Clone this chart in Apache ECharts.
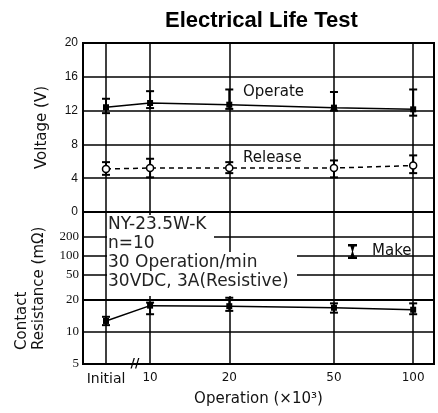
<!DOCTYPE html>
<html>
<head>
<meta charset="utf-8">
<script src="https://cdn.jsdelivr.net/npm/echarts@6/dist/echarts.min.js"></script>
<style>html,body{margin:0;padding:0;background:#fff}#main{width:438px;height:413px}</style>
</head>
<body>
<div id="main"></div>
<script>
// operations (x10^3); 6.8 is where "Initial" sits, left of the axis break
var ops = [6.8, 10, 20, 50, 100];
var opLabels = ['Initial', '10', '20', '50', '100'];
var resTicksHigh = [50, 100, 200];
var resTicksLow = [5, 10, 20];

// voltage (V)
var operateMean = [12.4, 12.9, 12.7, 12.35, 12.15];
var operateHigh = [13.4, 14.3, 14.5, 14.2, 14.5];
var operateLow = [11.7, 12.3, 12.2, 12.0, 11.4];
var releaseMean = [5.1, 5.2, 5.2, 5.2, 5.5];
var releaseHigh = [5.9, 6.3, 5.9, 6.1, 6.7];
var releaseLow = [4.4, 4.1, 4.6, 4.1, 4.6];
// contact resistance (mOhm)
var makeMean = [12.7, 17.7, 17.5, 16.9, 16.2];
var makeHigh = [13.9, 18.9, 21, 18.6, 18.6];
var makeLow = [11.6, 14.7, 15.8, 15.2, 14.7];

var myChart = echarts.init(document.getElementById('main'));

function pairs(vals) {
    var out = [];
    for (var i = 0; i < ops.length; i++) out.push([ops[i], vals[i]]);
    return out;
}
function ranges(low, high) {
    var out = [];
    for (var i = 0; i < ops.length; i++) out.push([ops[i], low[i], high[i]]);
    return out;
}
function errorBar(params, api) {
    var lo = api.coord([api.value(0), api.value(1)]);
    var hi = api.coord([api.value(0), api.value(2)]);
    var w = 4;
    var st = {stroke: '#000', lineWidth: 2};
    return {type: 'group', children: [
        {type: 'line', shape: {x1: lo[0], y1: lo[1], x2: hi[0], y2: hi[1]}, style: st},
        {type: 'line', shape: {x1: hi[0] - w, y1: hi[1], x2: hi[0] + w, y2: hi[1]}, style: st},
        {type: 'line', shape: {x1: lo[0] - w, y1: lo[1], x2: lo[0] + w, y2: lo[1]}, style: st}
    ]};
}
function opName(v) {
    for (var i = 0; i < ops.length; i++) {
        if (Math.abs(ops[i] - v) < 1e-6) return i == 0 ? '{i|' + opLabels[i] + '}' : opLabels[i];
    }
    return '';
}

var gridStyle = {show: true, borderColor: '#000', borderWidth: 2, left: 83, right: 4};
var split = {show: true, lineStyle: {color: '#000', width: 1.5}};
var labelFont = {color: '#111', fontFamily: 'Liberation Sans', fontSize: 12};
var boxFont = '17px "DejaVu Sans"';

function xAxisFor(i) {
    return {
        type: 'log', gridIndex: i, min: 5.56, max: 120,
        axisLine: {show: false},
        axisTick: {show: false, customValues: ops},
        axisLabel: {
            show: i == 2, customValues: ops, formatter: opName, margin: 8,
            color: '#111', fontFamily: 'DejaVu Sans', fontSize: 12,
            rich: {i: {fontFamily: 'DejaVu Sans', fontSize: 14, color: '#111'}}
        },
        splitLine: split,
        name: i == 2 ? 'Operation (×10³)' : '',
        nameLocation: 'middle', nameGap: 28,
        nameTextStyle: {color: '#111', fontFamily: 'DejaVu Sans', fontSize: 15}
    };
}

var option = {
    animation: false,
    title: {
        text: 'Electrical Life Test',
        left: 160, top: 5,
        textStyle: {fontFamily: 'Liberation Sans', fontWeight: 'bold', fontSize: 22, color: '#000'}
    },
    legend: {
        data: ['Make'], left: 343, top: 239,
        itemWidth: 9, itemHeight: 15,
        icon: 'path://M0,0H9V2.5H6.5L5,7.5L6.5,12.5H9V15H0V12.5H2.5L4,7.5L2.5,2.5H0Z',
        textStyle: {fontFamily: 'DejaVu Sans', fontSize: 15, color: '#111', padding: [0, 0, 0, 10]}
    },
    grid: [
        Object.assign({top: 43, height: 169}, gridStyle),
        Object.assign({top: 212, height: 88}, gridStyle),
        Object.assign({top: 300, height: 64}, gridStyle)
    ],
    xAxis: [xAxisFor(0), xAxisFor(1), xAxisFor(2)],
    yAxis: [
        {
            type: 'value', gridIndex: 0, min: 0, max: 20, interval: 4,
            axisLine: {show: false}, axisTick: {show: false},
            axisLabel: Object.assign({margin: 5}, labelFont),
            splitLine: split,
            name: 'Voltage (V)', nameLocation: 'middle', nameGap: 33,
            nameTextStyle: {color: '#111', fontFamily: 'DejaVu Sans', fontSize: 15}
        },
        {
            type: 'log', gridIndex: 1, min: 20, max: 500,
            axisLine: {show: false},
            axisTick: {show: false, customValues: resTicksHigh},
            axisLabel: {customValues: resTicksHigh, margin: 4, color: '#111', fontFamily: 'Liberation Sans Narrow', fontSize: 13},
            splitLine: split
        },
        {
            type: 'log', gridIndex: 2, min: 5, max: 20,
            axisLine: {show: false},
            axisTick: {show: false, customValues: resTicksLow},
            axisLabel: {customValues: resTicksLow, margin: 4, color: '#111', fontFamily: 'Liberation Sans Narrow', fontSize: 13},
            splitLine: split
        }
    ],
    series: [
        {
            name: 'Operate', type: 'line', xAxisIndex: 0, yAxisIndex: 0,
            data: pairs(operateMean), symbol: 'rect', symbolSize: 6,
            lineStyle: {color: '#000', width: 1.5}, itemStyle: {color: '#000'}
        },
        {
            type: 'custom', xAxisIndex: 0, yAxisIndex: 0, z: 3,
            data: ranges(operateLow, operateHigh), renderItem: errorBar
        },
        {
            name: 'Release', type: 'line', xAxisIndex: 0, yAxisIndex: 0,
            data: pairs(releaseMean), symbol: 'circle', symbolSize: 7, z: 4,
            lineStyle: {color: '#000', width: 1.5, type: [5, 4]},
            itemStyle: {color: '#fff', borderColor: '#000', borderWidth: 1.5}
        },
        {
            type: 'custom', xAxisIndex: 0, yAxisIndex: 0, z: 3,
            data: ranges(releaseLow, releaseHigh), renderItem: errorBar
        },
        {
            name: 'Make', type: 'line', xAxisIndex: 2, yAxisIndex: 2,
            data: pairs(makeMean), symbol: 'rect', symbolSize: 6,
            lineStyle: {color: '#000', width: 1.5}, itemStyle: {color: '#000'}
        },
        {
            type: 'custom', xAxisIndex: 2, yAxisIndex: 2, z: 3, clip: false,
            data: ranges(makeLow, makeHigh), renderItem: errorBar
        }
    ],
    graphic: [
        {type: 'rect', z: 10, shape: {x: 107, y: 215, width: 107, height: 38}, style: {fill: '#fff'}},
        {type: 'rect', z: 10, shape: {x: 107, y: 252, width: 190, height: 44}, style: {fill: '#fff'}},
        {type: 'text', z: 11, x: 108, y: 225, style: {text: 'NY-23.5W-K', fill: '#222', font: boxFont, verticalAlign: 'middle', textVerticalAlign: 'middle'}},
        {type: 'text', z: 11, x: 108, y: 244, style: {text: 'n=10', fill: '#222', font: boxFont, verticalAlign: 'middle', textVerticalAlign: 'middle'}},
        {type: 'text', z: 11, x: 108, y: 263, style: {text: '30 Operation/min', fill: '#222', font: boxFont, verticalAlign: 'middle', textVerticalAlign: 'middle'}},
        {type: 'text', z: 11, x: 108, y: 282, style: {text: '30VDC, 3A(Resistive)', fill: '#222', font: boxFont, verticalAlign: 'middle', textVerticalAlign: 'middle'}},
        {type: 'text', z: 11, x: 243, y: 92, style: {text: 'Operate', fill: '#111', font: '15px "DejaVu Sans"', verticalAlign: 'middle', textVerticalAlign: 'middle'}},
        {type: 'text', z: 11, x: 243, y: 158, style: {text: 'Release', fill: '#111', font: '15px "DejaVu Sans"', verticalAlign: 'middle', textVerticalAlign: 'middle'}},
        {type: 'text', z: 11, x: 22, y: 350, rotation: Math.PI / 2, style: {text: 'Contact', fill: '#111', font: '15px "DejaVu Sans"', align: 'left', textAlign: 'left', verticalAlign: 'middle', textVerticalAlign: 'middle'}},
        {type: 'text', z: 11, x: 39, y: 350, rotation: Math.PI / 2, style: {text: 'Resistance (mΩ)', fill: '#111', font: '15px "DejaVu Sans"', align: 'left', textAlign: 'left', verticalAlign: 'middle', textVerticalAlign: 'middle'}},
        {type: 'text', z: 11, x: 135, y: 364, style: {text: '//', fill: '#000', font: 'bold 12px "DejaVu Sans"', align: 'center', textAlign: 'center', verticalAlign: 'middle', textVerticalAlign: 'middle'}}
    ]
};
myChart.setOption(option);
</script>
</body>
</html>
